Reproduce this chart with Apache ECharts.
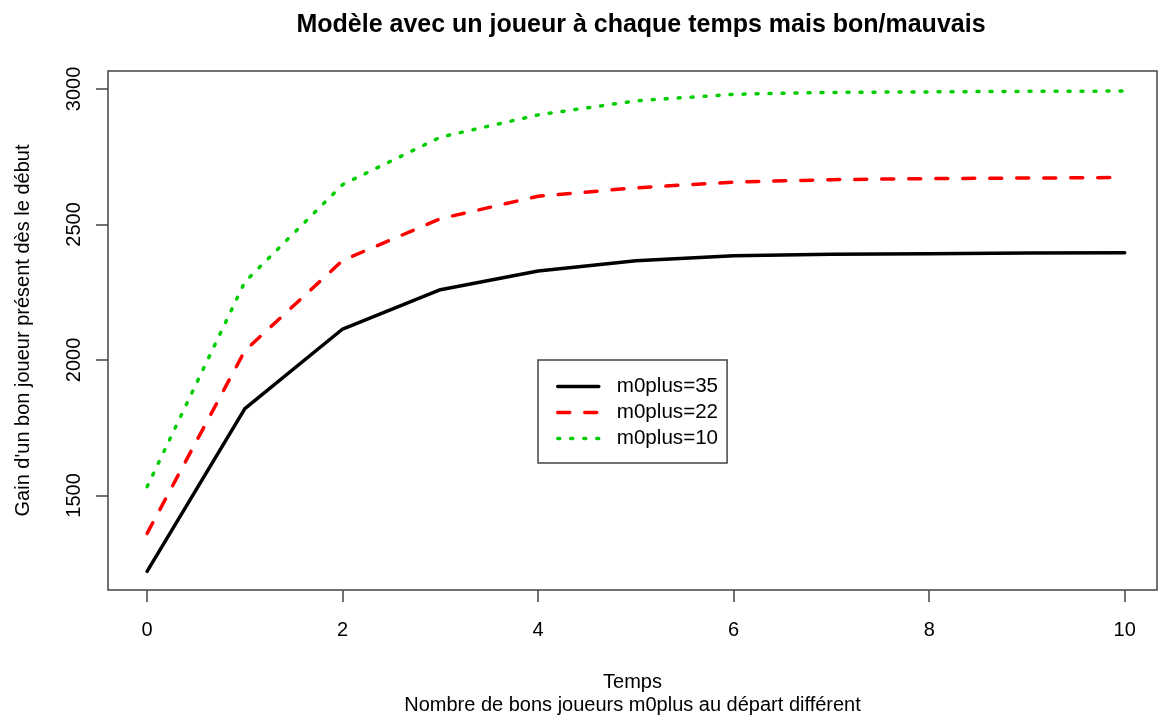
<!DOCTYPE html>
<html>
<head>
<meta charset="utf-8">
<script src="https://cdn.jsdelivr.net/npm/echarts@6/dist/echarts.min.js"></script>
<style>
html,body{margin:0;padding:0;background:#fff;}
#chart{width:1158px;height:722px;}
</style>
</head>
<body>
<div id="chart"></div>
<script>
var temps = [0, 1, 2, 3, 4, 5, 6, 7, 8, 9, 10];
var m35 = [1220, 1820, 2114, 2259, 2328, 2366, 2384, 2390, 2392, 2394, 2395];
var m22 = [1360, 2034, 2367, 2521, 2604, 2635, 2656, 2665, 2669, 2671, 2673];
var m10 = [1532, 2288, 2647, 2822, 2904, 2956, 2980, 2987, 2989, 2991, 2992];
var xTicks = [0, 2, 4, 6, 8, 10];
var yTicks = [1500, 2000, 2500, 3000];
var seriesNames = ['m0plus=35', 'm0plus=22', 'm0plus=10'];

function pairs(ys) { return temps.map(function (t, i) { return [t, ys[i]]; }); }

var font = '"Liberation Sans", Arial, Helvetica, sans-serif';
var chart = echarts.init(document.getElementById('chart'), null, {renderer: 'canvas'});
chart.setOption({
  animation: false,
  backgroundColor: '#ffffff',
  textStyle: {fontFamily: font, color: '#000'},
  title: {
    text: 'Modèle avec un joueur à chaque temps mais bon/mauvais',
    left: 636, top: 8, textAlign: 'center',
    textStyle: {fontFamily: font, fontSize: 25, fontWeight: 'bold', color: '#000'}
  },
  grid: {
    left: 108, top: 71, width: 1049, height: 521,
    show: true, borderColor: '#444', borderWidth: 1.5, backgroundColor: 'transparent'
  },
  legend: {
    orient: 'vertical', left: 538, top: 360,
    padding: [16, 9, 14, 18],
    borderColor: '#444', borderWidth: 1.5,
    itemWidth: 41, itemHeight: 14, itemGap: 5,
    itemStyle: {opacity: 0},
    lineStyle: {width: 3.5},
    textStyle: {fontFamily: font, fontSize: 20.6, lineHeight: 20, color: '#000', padding: [0, 0, 0, 13]},
    data: seriesNames
  },
  xAxis: {
    type: 'value', min: -0.4, max: 10.33,
    name: 'Temps\nNombre de bons joueurs m0plus au départ différent',
    nameLocation: 'middle', nameGap: 81,
    nameTextStyle: {fontFamily: font, fontSize: 20, lineHeight: 23, color: '#000'},
    axisLine: {show: false, onZero: false},
    axisTick: {show: true, length: 12, inside: false, customValues: xTicks, lineStyle: {color: '#444', width: 1.5}},
    axisLabel: {show: true, margin: 30, fontSize: 20, color: '#000', fontFamily: font, customValues: xTicks,
      formatter: function (v) { return String(v); }},
    splitLine: {show: false}
  },
  yAxis: {
    type: 'value', min: 1151, max: 3066,
    name: "Gain d'un bon joueur présent dès le début",
    nameLocation: 'middle', nameGap: 75, nameRotate: 90,
    nameTextStyle: {fontFamily: font, fontSize: 20, color: '#000'},
    axisLine: {show: false, onZero: false},
    axisTick: {show: true, length: 12, inside: false, customValues: yTicks, lineStyle: {color: '#444', width: 1.5}},
    axisLabel: {show: true, rotate: 90, margin: 24, fontSize: 20, color: '#000', fontFamily: font, customValues: yTicks,
      formatter: function (v) { return String(v); }},
    splitLine: {show: false}
  },
  series: [
    {name: seriesNames[0], type: 'line', data: pairs(m35), symbol: 'none',
     lineStyle: {color: '#000000', width: 3.5, type: 'solid', cap: 'round', join: 'round'},
     itemStyle: {color: '#000000'}},
    {name: seriesNames[1], type: 'line', data: pairs(m22), symbol: 'none',
     lineStyle: {color: '#ff0000', width: 3.5, type: [12, 15], cap: 'round', join: 'round'},
     itemStyle: {color: '#ff0000'}},
    {name: seriesNames[2], type: 'line', data: pairs(m10), symbol: 'none',
     lineStyle: {color: '#00cd00', width: 3.5, type: [2, 11], cap: 'round', join: 'round'},
     itemStyle: {color: '#00cd00'}}
  ]
});
</script>
</body>
</html>
